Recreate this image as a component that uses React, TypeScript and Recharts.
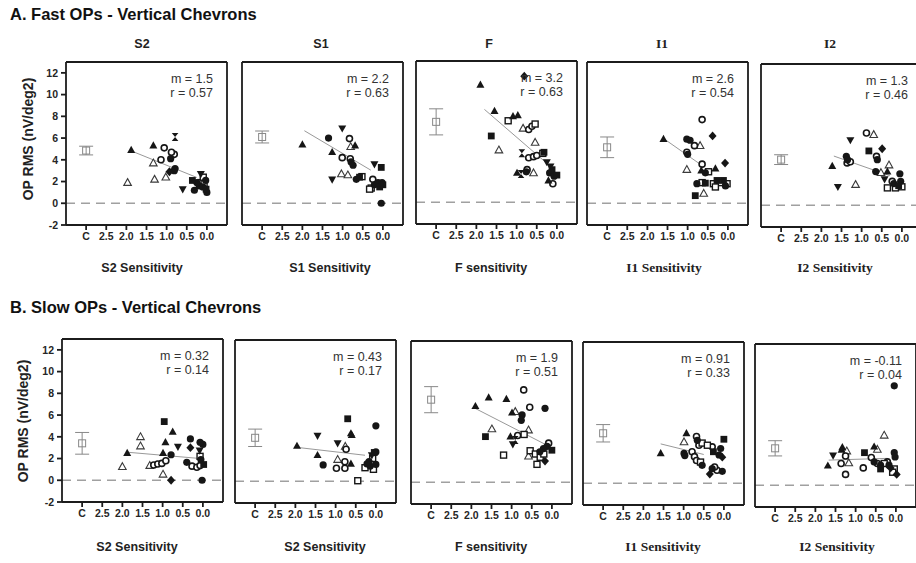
import React from 'react';
import { ScatterChart, Scatter, XAxis, YAxis, ReferenceLine, ErrorBar } from 'recharts';

type Mark = 'T' | 't' | 'V' | 'O' | 'o' | 'S' | 's' | 'D' | 'H';
type Pt = [number, number, Mark];

// "C" (control group) sits at 3 on the reversed sensitivity axis
const xTicks = [3, 2.5, 2, 1.5, 1, 0.5, 0];
const yTicks = [-2, 0, 2, 4, 6, 8, 10, 12];

const titles = ['S2', 'S1', 'F', 'I1', 'I2'];
const fastXLabels = ['S2 Sensitivity', 'S1 Sensitivity', 'F sensitivity', 'I1 Sensitivity', 'I2 Sensitivity'];
const slowXLabels = ['S2 Sensitivity', 'S2 Sensitivity', 'F sensitivity', 'I1 Sensitivity', 'I2 Sensitivity'];

// regression slope / correlation per panel
const fastM = [1.5, 2.2, 3.2, 2.6, 1.3];
const fastR = [0.57, 0.63, 0.63, 0.54, 0.46];
const slowM = [0.32, 0.43, 1.9, 0.91, -0.11];
const slowR = [0.14, 0.17, 0.51, 0.33, 0.04];

// fit line: anchor point [x, y] and x extent [from, to]
const fastFitAt = [[1.0, 3.5], [1.12, 4.85], [1.02, 6.05], [0.69, 3.6], [0.36, 2.8]];
const fastFitSpan = [[1.9, 0.25], [1.95, 0.3], [1.8, 0.25], [1.57, 0.69], [1.69, 0.3]];
const slowFitAt = [[1.0, 2.3], [1.1, 2.75], [0.17, 3.5], [0.5, 2.65], [0.9, 2.4]];
const slowFitSpan = [[1.88, 0.15], [1.97, 0.27], [1.93, 0.17], [1.57, 0.5], [1.67, 0.21]];

// control mean ± error
const fastCtrl = [4.85, 6.1, 7.4, 5.15, 4.2];
const fastCtrlErr = [0.4, 0.55, 1.2, 0.95, 0.45];
const slowCtrl = [3.4, 4.0, 7.6, 4.6, 3.4];
const slowCtrlErr = [1.0, 0.8, 1.2, 0.8, 0.7];

const fastS2: Pt[] = [
  [1.88, 4.9, 'T'], [1.97, 1.9, 't'], [1.33, 5.3, 'T'], [1.33, 3.7, 't'], [1.3, 2.2, 't'],
  [1.06, 5.1, 'o'], [1.14, 4.0, 'o'], [1.02, 2.4, 't'], [0.93, 2.9, 'D'], [0.81, 3.0, 'O'],
  [0.79, 6.1, 'H'], [0.81, 4.5, 'o'], [0.9, 4.1, 'O'], [0.88, 4.7, 'o'], [0.79, 3.2, 'O'],
  [0.6, 1.3, 'V'], [0.15, 2.7, 'V'], [0.36, 2.1, 'S'], [0.31, 1.2, 'O'], [0.19, 1.6, 'O'],
  [0.15, 1.9, 's'], [0.1, 1.5, 'O'], [0.07, 1.8, 's'], [0.02, 1.3, 'S'], [0.0, 1.0, 'O'],
  [0.09, 2.4, 's'], [0.25, 1.9, 'O'], [0.03, 2.1, 'O'],
];
const fastS1: Pt[] = [
  [2.0, 5.4, 'T'], [1.35, 6.0, 'O'], [1.01, 6.9, 'V'], [1.26, 4.7, 'T'], [1.26, 2.2, 'V'],
  [1.01, 4.2, 'o'], [0.83, 5.95, 'o'], [0.8, 5.2, 't'], [0.69, 5.3, 'T'], [0.81, 4.1, 'o'],
  [0.79, 3.8, 'O'], [0.74, 3.5, 'O'], [1.03, 2.7, 't'], [0.87, 2.6, 't'], [0.66, 2.2, 'O'],
  [0.58, 2.4, 'S'], [0.52, 2.45, 's'], [0.21, 3.6, 'V'], [0.04, 3.3, 'S'], [0.25, 2.2, 'o'],
  [0.21, 1.7, 'O'], [0.12, 1.9, 'O'], [0.08, 1.5, 'S'], [0.29, 1.4, 's'], [0.33, 1.3, 's'],
  [0.0, 1.7, 'S'], [0.02, 1.9, 'O'], [0.04, 0.0, 'O'],
];
const fastF: Pt[] = [
  [1.9, 10.8, 'T'], [0.81, 11.6, 'D'], [1.55, 8.4, 'T'], [1.21, 7.5, 's'], [1.09, 7.9, 'T'],
  [0.97, 8.0, 'T'], [1.63, 6.1, 'S'], [1.44, 4.8, 't'], [0.84, 6.8, 't'], [0.7, 6.7, 'o'],
  [0.54, 7.2, 's'], [0.62, 7.0, 'o'], [0.54, 5.5, 't'], [0.87, 4.5, 'H'], [0.7, 4.1, 'o'],
  [0.58, 4.2, 'o'], [0.5, 4.3, 'o'], [0.35, 4.5, 's'], [0.32, 4.6, 'S'], [0.99, 2.7, 'T'],
  [0.89, 2.6, 'H'], [0.74, 3.0, 'o'], [0.76, 2.8, 'O'], [0.58, 2.7, 't'], [0.25, 3.7, 'V'],
  [0.16, 3.3, 'V'], [0.12, 3.0, 'S'], [0.18, 2.7, 'O'], [0.0, 2.5, 'S'], [0.21, 2.0, 'T'],
  [0.1, 1.7, 'o'], [0.07, 2.4, 'O'],
];
const fastI1: Pt[] = [
  [1.6, 5.9, 'T'], [1.02, 5.9, 'O'], [0.94, 5.8, 'O'], [0.64, 7.7, 'o'], [0.38, 6.2, 'D'],
  [0.83, 5.3, 'o'], [0.69, 5.3, 't'], [1.02, 4.7, 'o'], [1.0, 4.5, 'O'], [0.64, 3.6, 'o'],
  [0.07, 3.7, 'D'], [1.02, 3.1, 't'], [0.66, 3.0, 'T'], [0.56, 2.8, 'O'], [0.48, 2.9, 's'],
  [0.31, 3.2, 'T'], [0.77, 1.8, 'O'], [0.64, 1.9, 's'], [0.56, 1.85, 'S'], [0.36, 1.8, 's'],
  [0.27, 2.1, 'S'], [0.19, 1.9, 's'], [0.11, 2.1, 'S'], [0.02, 1.8, 's'], [0.06, 1.6, 'O'],
  [0.31, 1.5, 's'], [0.81, 0.7, 'S'], [0.6, 0.9, 't'],
];
const fastI2: Pt[] = [
  [0.88, 6.65, 'o'], [0.7, 6.5, 't'], [1.28, 6.0, 'V'], [0.82, 5.0, 'S'], [0.49, 5.2, 'D'],
  [1.73, 3.6, 'T'], [1.38, 4.5, 'O'], [1.36, 3.9, 'o'], [1.35, 4.2, 'O'], [1.28, 4.0, 'o'],
  [0.63, 4.5, 'o'], [0.61, 4.2, 'O'], [0.32, 3.7, 't'], [0.36, 3.1, 'T'], [0.65, 3.1, 'O'],
  [0.52, 3.0, 't'], [0.43, 2.4, 'V'], [1.59, 1.7, 'V'], [1.15, 1.9, 't'], [0.05, 2.9, 'O'],
  [0.36, 1.6, 's'], [0.24, 2.2, 'o'], [0.2, 2.0, 'O'], [0.16, 1.6, 's'], [0.08, 1.8, 'S'],
  [0.0, 1.7, 's'], [0.03, 2.2, 'O'],
];

const slowS2: Pt[] = [
  [2.0, 1.25, 't'], [1.88, 2.5, 'T'], [1.55, 4.0, 't'], [1.55, 3.15, 't'], [1.32, 1.35, 't'],
  [1.22, 1.4, 'o'], [1.12, 1.5, 'o'], [1.02, 1.55, 'o'], [0.92, 1.8, 'o'], [0.96, 5.4, 'S'],
  [0.93, 3.5, 'T'], [0.99, 2.5, 'T'], [0.99, 0.55, 't'], [0.75, 4.45, 'T'], [0.79, 2.35, 'O'],
  [0.79, 0.0, 'D'], [0.62, 3.1, 'V'], [0.31, 3.8, 'O'], [0.31, 3.0, 'D'], [0.4, 1.65, 'O'],
  [0.27, 1.3, 'o'], [0.15, 1.2, 'o'], [0.07, 1.35, 'o'], [0.07, 2.2, 's'], [0.08, 2.75, 'V'],
  [0.0, 3.3, 'O'], [0.07, 3.5, 'O'], [-0.02, 1.45, 'S'], [0.05, 1.9, 'O'], [0.02, 0.0, 'O'],
];
const slowS1: Pt[] = [
  [1.96, 3.25, 'T'], [1.45, 4.2, 'V'], [1.45, 2.4, 'T'], [1.31, 1.5, 'O'], [0.95, 3.5, 'V'],
  [0.95, 2.0, 't'], [0.98, 1.2, 'o'], [0.77, 1.2, 'o'], [0.7, 5.75, 'S'], [0.62, 4.4, 'T'],
  [0.6, 4.25, 'T'], [0.74, 2.95, 'o'], [0.76, 3.2, 't'], [0.77, 1.8, 'o'], [0.62, 1.6, 'T'],
  [0.45, 0.05, 's'], [0.0, 5.1, 'O'], [0.1, 2.4, 'V'], [0.04, 2.65, 'S'], [0.0, 2.7, 'O'],
  [0.22, 1.6, 'O'], [0.14, 1.4, 'O'], [0.27, 1.25, 's'], [0.06, 1.1, 's'], [0.0, 1.55, 'O'],
  [0.08, 2.1, 's'], [0.17, 1.8, 'O'],
];
const slowF: Pt[] = [
  [1.9, 7.0, 'T'], [1.57, 7.8, 'T'], [1.13, 7.65, 'T'], [0.7, 8.5, 'o'], [0.55, 6.9, 'o'],
  [0.17, 6.8, 'O'], [1.49, 4.9, 't'], [1.65, 4.2, 'S'], [1.2, 2.5, 's'], [0.99, 6.4, 'T'],
  [0.91, 6.5, 't'], [0.74, 6.2, 'O'], [0.76, 5.7, 'O'], [1.03, 4.2, 'T'], [0.91, 3.9, 'H'],
  [0.97, 3.5, 'V'], [0.85, 4.3, 'o'], [0.69, 4.4, 's'], [0.58, 4.8, 't'], [0.54, 2.9, 's'],
  [0.58, 2.4, 't'], [0.08, 3.6, 'o'], [0.12, 3.3, 'O'], [0.0, 2.95, 'S'], [0.21, 3.1, 'O'],
  [0.41, 2.6, 's'], [0.29, 2.3, 's'], [0.37, 1.65, 's'], [0.17, 1.95, 'D'], [0.2, 2.6, 's'],
  [0.3, 2.8, 'O'],
];
const slowI1: Pt[] = [
  [1.57, 2.75, 'T'], [0.93, 4.6, 'T'], [0.99, 3.8, 't'], [0.99, 2.75, 'O'], [0.97, 2.55, 'O'],
  [0.68, 4.3, 'o'], [0.66, 3.95, 'O'], [0.62, 3.5, 'o'], [0.54, 3.7, 's'], [0.41, 3.5, 's'],
  [0.29, 3.35, 'o'], [0.0, 4.05, 'S'], [0.08, 3.2, 'O'], [0.04, 2.4, 'D'], [0.26, 2.9, 'S'],
  [0.79, 2.9, 'o'], [0.73, 2.45, 'o'], [0.68, 2.1, 'o'], [0.58, 1.95, 's'], [0.54, 1.65, 'O'],
  [0.35, 0.85, 'D'], [0.29, 1.35, 'O'], [0.17, 1.2, 'o'], [0.04, 1.1, 'O'], [0.23, 1.5, 'o'],
  [0.12, 2.6, 'O'],
];
const slowI2: Pt[] = [
  [0.04, 9.15, 'O'], [0.29, 4.6, 't'], [1.69, 1.8, 'T'], [1.56, 2.75, 'V'], [1.33, 3.5, 'T'],
  [1.35, 3.25, 'T'], [1.22, 3.15, 't'], [1.36, 2.0, 'o'], [1.25, 2.7, 'o'], [1.17, 2.05, 't'],
  [1.25, 1.0, 'o'], [0.81, 1.6, 'o'], [0.78, 3.0, 'S'], [0.54, 3.55, 'T'], [0.46, 3.3, 't'],
  [0.61, 2.55, 'o'], [0.54, 2.15, 'O'], [0.46, 2.0, 'o'], [0.38, 1.85, 'O'], [0.29, 2.0, 's'],
  [0.21, 2.15, 'o'], [0.17, 1.85, 'O'], [0.13, 1.6, 'D'], [0.04, 1.5, 's'], [0.08, 1.2, 's'],
  [-0.02, 1.0, 'D'], [0.04, 3.0, 'O'], [0.02, 2.6, 'O'], [0.38, 1.5, 'S'],
];

const fastPoints = [fastS2, fastS1, fastF, fastI1, fastI2];
const slowPoints = [slowS2, slowS1, slowF, slowI1, slowI2];

// plot-box placement on the page
const BOX_W = 161;
const BOX_H = 162;
const fastLeft = [66, 242, 416, 587, 761];
const fastTop = [63, 63, 62, 63, 65];
const slowLeft = [62, 235, 411, 583, 755];
const slowTop = [340, 341, 342, 343, 345];
const titleX = [142, 321, 489, 662, 830];
const fastLabelX = [142, 330, 491, 664, 835];
const slowLabelX = [137, 325, 491, 663, 837];

const INK = '#161616';
const FRAME = '#1c1c1c';
const SANS = '"Liberation Sans", Arial, sans-serif';
const SERIF = '"Liberation Serif", "Times New Roman", serif';
const MARKS: Mark[] = ['t', 'o', 's', 'T', 'V', 'O', 'S', 'D', 'H'];

const markShape = (mk: Mark) => (p: any) => {
  const { cx, cy } = p;
  if (cx == null || cy == null) return <g />;
  switch (mk) {
    case 'T':
      return <path d={`M${cx},${cy - 4.3}L${cx + 4},${cy + 2.9}L${cx - 4},${cy + 2.9}Z`} fill={INK} />;
    case 't':
      return <path d={`M${cx},${cy - 4}L${cx + 3.8},${cy + 2.8}L${cx - 3.8},${cy + 2.8}Z`} fill="#fff" stroke="#3a3a3a" strokeWidth={1.1} />;
    case 'V':
      return <path d={`M${cx},${cy + 4.3}L${cx + 4},${cy - 2.9}L${cx - 4},${cy - 2.9}Z`} fill={INK} />;
    case 'O':
      return <circle cx={cx} cy={cy} r={3.6} fill={INK} />;
    case 'o':
      return <circle cx={cx} cy={cy} r={3} fill="#fff" stroke={INK} strokeWidth={1.6} />;
    case 'S':
      return <rect x={cx - 3.4} y={cy - 3.4} width={6.8} height={6.8} fill={INK} />;
    case 's':
      return <rect x={cx - 3} y={cy - 3} width={6} height={6} fill="#fff" stroke={INK} strokeWidth={1.4} />;
    case 'D':
      return <path d={`M${cx},${cy - 4.4}L${cx + 4},${cy}L${cx},${cy + 4.4}L${cx - 4},${cy}Z`} fill={INK} />;
    default:
      return <path d={`M${cx - 3.3},${cy - 4}L${cx + 3.3},${cy - 4}L${cx - 3.3},${cy + 4}L${cx + 3.3},${cy + 4}Z`} fill={INK} />;
  }
};

const ctrlShape = (p: any) => {
  const { cx, cy } = p;
  if (cx == null || cy == null) return <g />;
  return <rect x={cx - 3.5} y={cy - 3.5} width={7} height={7} fill="none" stroke="#888" strokeWidth={1} />;
};

const axisTick = { fontSize: 10.5, fontWeight: 700, fill: '#262626', fontFamily: SANS };
const xFmt = (v: number) => (v === 3 ? 'C' : v.toFixed(1));

type PanelProps = {
  left: number;
  top: number;
  points: Pt[];
  ctrl: number;
  ctrlErr: number;
  m: number;
  fitAt: number[];
  fitSpan: number[];
  showY: boolean;
};

function Panel({ left, top, points, ctrl, ctrlErr, m, fitAt, fitSpan, showY }: PanelProps) {
  const W = 30 + BOX_W + 8 + 2;
  const H = 5 + 1 + BOX_H + 22 + 2;
  const fitY = (x: number) => fitAt[1] + m * (x - fitAt[0]);
  const seg = fitSpan.map((x) => ({ x, y: fitY(x) }));
  return (
    <div style={{ position: 'absolute', left: left - 30, top: top - 6 }}>
      <ScatterChart width={W} height={H} margin={{ top: 5, right: 2, bottom: 2, left: 0 }}>
        <XAxis
          xAxisId="b"
          type="number"
          dataKey="x"
          domain={[-0.5, 3.5]}
          reversed
          ticks={xTicks}
          interval={0}
          tickFormatter={xFmt}
          height={22}
          stroke={FRAME}
          strokeWidth={1.8}
          tickSize={5}
          tickMargin={3}
          tick={axisTick}
          allowDataOverflow
        />
        <XAxis
          xAxisId="t"
          orientation="top"
          type="number"
          domain={[-0.5, 3.5]}
          reversed
          ticks={xTicks}
          interval={0}
          height={1}
          mirror
          tick={false}
          tickSize={5}
          stroke={FRAME}
          strokeWidth={1.8}
          allowDataOverflow
        />
        <YAxis
          yAxisId="l"
          type="number"
          dataKey="y"
          domain={[-2, 13]}
          ticks={yTicks}
          interval={0}
          width={30}
          stroke={FRAME}
          strokeWidth={1.8}
          tickSize={5}
          tickMargin={3}
          tick={showY ? axisTick : false}
          allowDataOverflow
        />
        <YAxis
          yAxisId="r"
          orientation="right"
          type="number"
          domain={[-2, 13]}
          ticks={yTicks}
          interval={0}
          width={8}
          tick={false}
          tickSize={4}
          stroke={FRAME}
          strokeWidth={1.8}
          allowDataOverflow
        />
        <ReferenceLine xAxisId="b" yAxisId="l" y={0} stroke="#a0a0a0" strokeWidth={1.5} strokeDasharray="9 6" />
        <ReferenceLine xAxisId="b" yAxisId="l" segment={seg} stroke="#999" strokeWidth={1} />
        <Scatter
          xAxisId="b"
          yAxisId="l"
          data={[{ x: 3, y: ctrl, err: ctrlErr }]}
          shape={ctrlShape}
          isAnimationActive={false}
        >
          <ErrorBar dataKey="err" direction="y" width={7} stroke="#888" strokeWidth={1} />
        </Scatter>
        {MARKS.map((mk) => {
          const data = points.filter((p) => p[2] === mk).map(([x, y]) => ({ x, y }));
          if (!data.length) return null;
          return (
            <Scatter
              key={mk}
              xAxisId="b"
              yAxisId="l"
              data={data}
              shape={markShape(mk)}
              isAnimationActive={false}
            />
          );
        })}
      </ScatterChart>
    </div>
  );
}

function StatText({ right, top, m, r, tight }: { right: number; top: number; m: number; r: number; tight: boolean }) {
  return (
    <g fontFamily={SANS} fontSize={12.5} fill="#333" textAnchor="end" style={{ whiteSpace: 'pre' }}>
      <text x={right - 14} y={top + 20}>{`m = ${m}`}</text>
      <text x={right - 14} y={top + 34}>{`r = ${tight ? '' : ' '}${r.toFixed(2)}`}</text>
    </g>
  );
}

export default function App() {
  const rows = [
    { left: fastLeft, top: fastTop, pts: fastPoints, ctrl: fastCtrl, err: fastCtrlErr, m: fastM, r: fastR, at: fastFitAt, span: fastFitSpan },
    { left: slowLeft, top: slowTop, pts: slowPoints, ctrl: slowCtrl, err: slowCtrlErr, m: slowM, r: slowR, at: slowFitAt, span: slowFitSpan },
  ];
  return (
    <div
      style={{
        position: 'fixed',
        left: 0,
        top: 0,
        width: 916,
        height: 563,
        overflow: 'hidden',
        background: '#fff',
        fontFamily: SANS,
      }}
    >
      {rows.map((row, ri) =>
        row.pts.map((pts, i) => (
          <Panel
            key={`${ri}-${i}`}
            left={row.left[i]}
            top={row.top[i]}
            points={pts}
            ctrl={row.ctrl[i]}
            ctrlErr={row.err[i]}
            m={row.m[i]}
            fitAt={row.at[i]}
            fitSpan={row.span[i]}
            showY={i === 0}
          />
        ))
      )}
      <svg width={916} height={563} style={{ position: 'absolute', left: 0, top: 0, pointerEvents: 'none' }}>
        <text x={10} y={20} fontFamily={SANS} fontSize={16.5} fontWeight={700} fill="#111">
          A. Fast OPs - Vertical Chevrons
        </text>
        <text x={10} y={313} fontFamily={SANS} fontSize={16.5} fontWeight={700} fill="#111">
          B. Slow OPs - Vertical Chevrons
        </text>
        {titles.map((t, i) => (
          <text
            key={t}
            x={titleX[i]}
            y={48}
            textAnchor="middle"
            fontFamily={i >= 3 ? SERIF : SANS}
            fontSize={i >= 3 ? 13.5 : 12.5}
            fontWeight={700}
            fill="#222"
          >
            {t}
          </text>
        ))}
        {fastXLabels.map((t, i) => (
          <text
            key={`fx${i}`}
            x={fastLabelX[i]}
            y={272}
            textAnchor="middle"
            fontFamily={i >= 3 ? SERIF : SANS}
            fontSize={i >= 3 ? 13.5 : 12.5}
            fontWeight={700}
            fill="#222"
          >
            {t}
          </text>
        ))}
        {slowXLabels.map((t, i) => (
          <text
            key={`sx${i}`}
            x={slowLabelX[i]}
            y={551}
            textAnchor="middle"
            fontFamily={i >= 3 ? SERIF : SANS}
            fontSize={i >= 3 ? 13.5 : 12.5}
            fontWeight={700}
            fill="#222"
          >
            {t}
          </text>
        ))}
        {[[28, 139], [23, 421]].map(([x, y], i) => (
          <text
            key={`yl${i}`}
            x={x}
            y={y}
            transform={`rotate(-90 ${x} ${y})`}
            textAnchor="middle"
            dominantBaseline="central"
            fontFamily={SANS}
            fontSize={14}
            fontWeight={700}
            fill="#222"
          >
            OP RMS (nV/deg2)
          </text>
        ))}
        {rows.map((row, ri) =>
          row.m.map((m, i) => (
            <StatText
              key={`st${ri}-${i}`}
              right={row.left[i] + BOX_W}
              top={row.top[i]}
              m={m}
              r={row.r[i]}
              tight={i === 2}
            />
          ))
        )}
      </svg>
    </div>
  );
}
